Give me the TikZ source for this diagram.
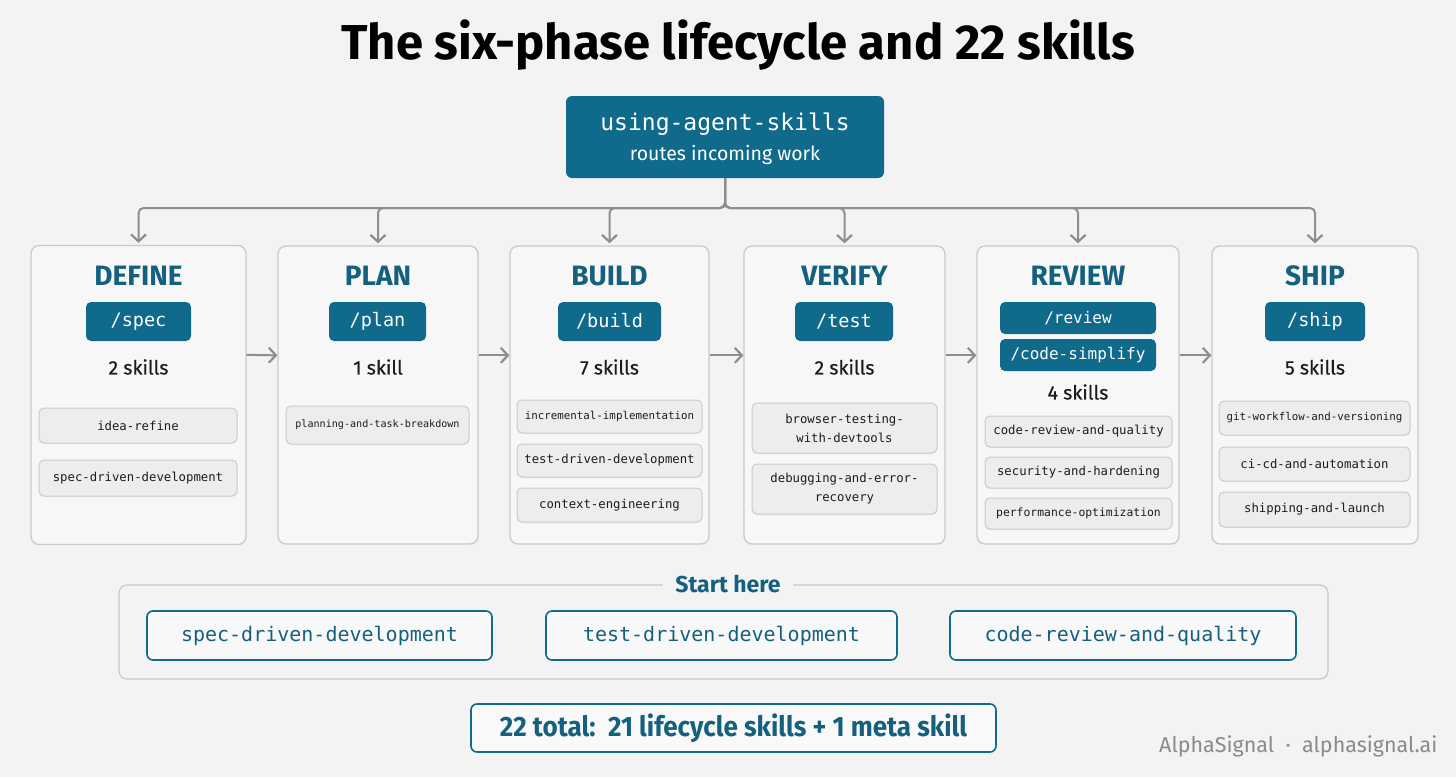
\documentclass[tikz,border=0pt]{standalone}
\usepackage{fontspec}
\setmainfont{Fira Sans}
\newfontfamily\monof{DejaVu Sans Mono}
\newfontfamily\medf[FakeBold=0.5]{Fira Sans}
\usetikzlibrary{arrows.meta,calc,shadows}
\definecolor{bg}{HTML}{F3F3F3}
\definecolor{colfill}{HTML}{F7F7F7}
\definecolor{colborder}{HTML}{C9C9C9}
\definecolor{tealfill}{HTML}{0F6A8B}
\definecolor{tealtext}{HTML}{14607F}
\definecolor{skfill}{HTML}{EDEDED}
\definecolor{skborder}{HTML}{CBCBCB}
\definecolor{conn}{HTML}{8E8E8E}
\definecolor{textdark}{HTML}{1C1C1C}
\definecolor{footer}{HTML}{8A8A8A}
\tikzset{
  colbox/.style={draw=colborder, fill=colfill, line width=1.3pt, rounded corners=8pt, inner sep=0pt},
  pill/.style={fill=tealfill, rounded corners=5pt, text=white, inner sep=0pt, font=\monof\fontsize{18.5}{20}\selectfont},
  smallpill/.style={pill, font=\monof\fontsize{16}{18}\selectfont},
  phasetitle/.style={text=tealtext, font=\bfseries\fontsize{28}{30}\selectfont},
  count/.style={text=textdark, font=\medf\fontsize{19.5}{22}\selectfont},
  skillbox/.style={draw=skborder, fill=skfill, line width=1pt, rounded corners=5pt, inner sep=0pt, align=center, text=textdark, font=\monof\fontsize{12.3}{19}\selectfont, drop shadow={shadow xshift=0pt, shadow yshift=-1.2pt, opacity=0.10}},
  startbox/.style={draw=tealfill, fill=bg!60!white, line width=1.6pt, rounded corners=6pt, inner sep=0pt, text=tealtext, font=\monof\fontsize{20}{22}\selectfont},
  arr/.style={draw=conn, line width=2pt, -{Straight Barb[length=7pt,width=15pt,line width=2.2pt]}},
}
\begin{document}
\begin{tikzpicture}[x=1pt,y=-1pt]
\fill[bg] (0,0) rectangle (1456,777);
\useasboundingbox (0,0) rectangle (1456,777);

% title
\node[text=black, font=\bfseries\fontsize{49}{54}\selectfont] (title) at (738,45) {The six-phase lifecycle and 22 skills};

% top router
\node[fill=tealfill, rounded corners=6pt, minimum width=318pt, minimum height=82pt, inner sep=0pt] (top) at (725,137) {};
\node[text=white, font=\monof\fontsize{23}{26}\selectfont] (toptitle) at (725,124) {using-agent-skills};
\node[text=white, font=\fontsize{19.5}{22}\selectfont] (topsub) at (725,155) {routes incoming work};
\coordinate (bus) at (725,208);

% columns
\node[colbox, minimum width=215pt, minimum height=299pt] (define) at (138.5,395) {};
\node[colbox, minimum width=200pt, minimum height=298pt] (plan) at (378,395) {};
\node[colbox, minimum width=199pt, minimum height=298pt] (build) at (609.5,395) {};
\node[colbox, minimum width=201pt, minimum height=298pt] (verify) at (844.5,395) {};
\node[colbox, minimum width=202pt, minimum height=298pt] (review) at (1078,395) {};
\node[colbox, minimum width=206pt, minimum height=298pt] (ship) at (1315,395) {};

% tree connectors
\foreach \c in {define,plan,build,verify,review,ship}{
  \draw[arr, rounded corners=5pt, shorten >=2pt] (top.south) -- (bus) -| (\c.north);
}

% phase-to-phase arrows
\draw[arr] ($(define.north east)+(0,110)$) -- ($(plan.north west)+(0,110)$);
\draw[arr] ($(plan.north east)+(0,110)$) -- ($(build.north west)+(0,110)$);
\draw[arr] ($(build.north east)+(0,110)$) -- ($(verify.north west)+(0,110)$);
\draw[arr] ($(verify.north east)+(0,110)$) -- ($(review.north west)+(0,110)$);
\draw[arr] ($(review.north east)+(0,110)$) -- ($(ship.north west)+(0,110)$);

% DEFINE
\node[phasetitle] (t1) at (138.5,276) {DEFINE};
\node[pill, minimum width=105pt, minimum height=39pt] (p1) at (138.5,321.5) {/spec};
\node[count] (c1) at (138.5,367) {2 skills};
\node[skillbox, minimum width=198pt, minimum height=35pt] (s11) at (138,425.5) {idea-refine};
\node[skillbox, minimum width=198pt, minimum height=36pt] (s12) at (138,478) {spec-driven-development};

% PLAN
\node[phasetitle] (t2) at (378,276) {PLAN};
\node[pill, minimum width=97pt, minimum height=39pt] (p2) at (377.5,321.5) {/plan};
\node[count] (c2) at (378,367) {1 skill};
\node[skillbox, minimum width=183pt, minimum height=38pt, font=\monof\fontsize{10.1}{12}\selectfont] (s21) at (377.5,425) {planning-and-task-breakdown};

% BUILD
\node[phasetitle] (t3) at (609.5,276) {BUILD};
\node[pill, minimum width=103pt, minimum height=39pt] (p3) at (609.5,321.5) {/build};
\node[count] (c3) at (609.5,367) {7 skills};
\node[skillbox, minimum width=185pt, minimum height=33pt, font=\monof\fontsize{10.8}{12}\selectfont] (s31) at (609.5,416.5) {incremental-implementation};
\node[skillbox, minimum width=185pt, minimum height=33pt] (s32) at (609.5,460.5) {test-driven-development};
\node[skillbox, minimum width=185pt, minimum height=34pt] (s33) at (609.5,505) {context-engineering};

% VERIFY
\node[phasetitle] (t4) at (844.5,276) {VERIFY};
\node[pill, minimum width=98pt, minimum height=39pt] (p4) at (844,321.5) {/test};
\node[count] (c4) at (844.5,367) {2 skills};
\node[skillbox, minimum width=185pt, minimum height=50pt] (s41) at (844.5,428) {browser-testing-\\with-devtools};
\node[skillbox, minimum width=185pt, minimum height=50pt] (s42) at (844.5,489) {debugging-and-error-\\recovery};

% REVIEW
\node[phasetitle] (t5) at (1078,276) {REVIEW};
\node[smallpill, minimum width=156pt, minimum height=32pt] (p5a) at (1078,318) {/review};
\node[smallpill, minimum width=156pt, minimum height=32pt] (p5b) at (1078,355) {/code-simplify};
\node[count] (c5) at (1078,392) {4 skills};
\node[skillbox, minimum width=187pt, minimum height=31pt] (s51) at (1078.5,431.5) {code-review-and-quality};
\node[skillbox, minimum width=187pt, minimum height=31pt] (s52) at (1078.5,472.5) {security-and-hardening};
\node[skillbox, minimum width=187pt, minimum height=31pt, font=\monof\fontsize{11.4}{13}\selectfont] (s53) at (1078.5,513.5) {performance-optimization};

% SHIP
\node[phasetitle] (t6) at (1315,276) {SHIP};
\node[pill, minimum width=100pt, minimum height=39pt] (p6) at (1315,321.5) {/ship};
\node[count] (c6) at (1315,367) {5 skills};
\node[skillbox, minimum width=191pt, minimum height=34pt, font=\monof\fontsize{10.8}{12}\selectfont] (s61) at (1314.5,418) {git-workflow-and-versioning};
\node[skillbox, minimum width=191pt, minimum height=34pt] (s62) at (1314.5,464) {ci-cd-and-automation};
\node[skillbox, minimum width=191pt, minimum height=35pt] (s63) at (1314.5,509.5) {shipping-and-launch};

% Start here group
\node[draw=colborder, line width=1.3pt, rounded corners=8pt, minimum width=1209pt, minimum height=94pt, inner sep=0pt] (startframe) at (723.5,632) {};
\node[fill=bg, inner xsep=12pt, inner ysep=2pt, text=tealtext, font=\bfseries\fontsize{23}{26}\selectfont] (starthere) at (728,584) {Start here};
\node[startbox, minimum width=345pt, minimum height=49pt] (st1) at (319.5,635.5) {spec-driven-development};
\node[startbox, minimum width=351pt, minimum height=49pt] (st2) at (721.5,635.5) {test-driven-development};
\node[startbox, minimum width=346pt, minimum height=49pt] (st3) at (1123,635.5) {code-review-and-quality};

% total
\node[draw=tealfill, fill=bg!50!white, line width=1.6pt, rounded corners=6pt, minimum width=525pt, minimum height=48pt, inner sep=0pt, text=tealtext, font=\bfseries\fontsize{28}{30}\selectfont] (total) at (733.5,728) {\scalebox{0.93}[1]{22 total:\ \ 21 lifecycle skills + 1 meta skill}};

% footer
\node[anchor=east, text=footer, font=\fontsize{21.5}{24}\selectfont] (foot) at (1441,746) {AlphaSignal\ \ ·\ \ alphasignal.ai};
\end{tikzpicture}
\end{document}
